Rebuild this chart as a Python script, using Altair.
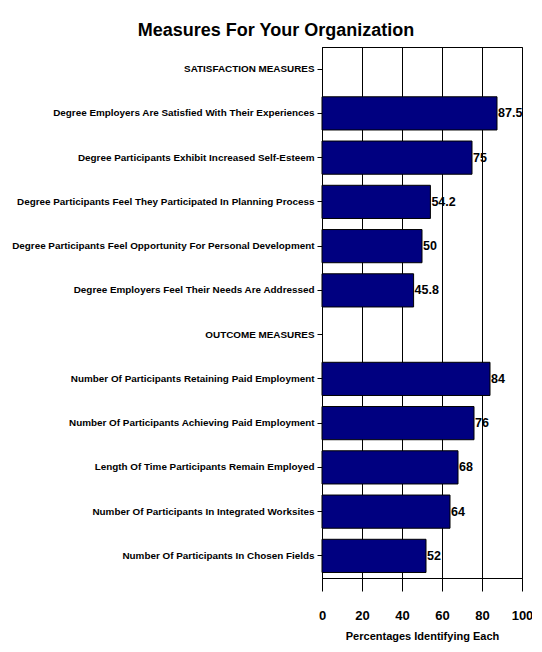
import altair as alt
import pandas as pd

categories = [
    "SATISFACTION MEASURES",
    "Degree Employers Are Satisfied With Their Experiences",
    "Degree Participants Exhibit Increased Self-Esteem",
    "Degree Participants Feel They Participated In Planning Process",
    "Degree Participants Feel Opportunity For Personal Development",
    "Degree Employers Feel Their Needs Are Addressed",
    "OUTCOME MEASURES",
    "Number Of Participants Retaining Paid Employment",
    "Number Of Participants Achieving Paid Employment",
    "Length Of Time Participants Remain Employed",
    "Number Of Participants In Integrated Worksites",
    "Number Of Participants In Chosen Fields",
]
values = [None, 87.5, 75, 54.2, 50, 45.8, None, 84, 76, 68, 64, 52]
value_labels = ["", "87.5", "75", "54.2", "50", "45.8", "", "84", "76", "68", "64", "52"]
x_ticks = [0, 20, 40, 60, 80, 100]

df = pd.DataFrame({"measure": categories, "pct": values, "label": value_labels})
bars_df = df[df["pct"].notna()]

FONT = "Liberation Sans"

y_scale = alt.Scale(domain=categories, paddingInner=0.25, paddingOuter=0.125)
x_scale = alt.Scale(domain=[0, 100], nice=False)

y_enc = alt.Y(
    "measure:N",
    sort=categories,
    scale=y_scale,
    axis=alt.Axis(
        title=None,
        labelFont=FONT,
        labelFontSize=9.9,
        labelFontWeight="bold",
        labelColor="black",
        labelLimit=400,
        tickColor="black",
        tickSize=5,
        labelPadding=3,
        domainColor="black",
        grid=False,
    ),
)
x_enc = alt.X(
    "pct:Q",
    scale=x_scale,
    axis=alt.Axis(
        values=x_ticks,
        tickCount=12,
        title="Percentages Identifying Each",
        titleFont=FONT,
        titleFontSize=11,
        titleFontWeight="bold",
        titleColor="black",
        titlePadding=8,
        labelFont=FONT,
        labelFontSize=13,
        labelFontWeight="bold",
        labelColor="black",
        labelPadding=18,
        labelOverlap=False,
        labelFlush=False,
        tickSize=13,
        tickColor="black",
        domainColor="black",
        grid=True,
        gridColor="black",
        gridOpacity=1,
        format="d",
    ),
)

base = alt.Chart(bars_df)
bars = base.mark_bar(color="#000080", stroke="black", strokeWidth=1).encode(
    x=x_enc, y=y_enc
)
text = base.mark_text(
    align="left", baseline="middle", dx=1, font=FONT, fontSize=12.5,
    fontWeight="bold", color="black"
).encode(
    x=x_enc,
    y=y_enc,
    text="label:N",
)

chart = (
    alt.layer(bars, text)
    .properties(
        width=200,
        height=531,
        autosize=alt.AutoSizeParams(type="none"),
        padding={"left": 314, "top": 39, "right": 10, "bottom": 64},
        title=alt.TitleParams(
            "Measures For Your Organization",
            font=FONT,
            fontSize=18,
            fontWeight="bold",
            color="black",
            anchor="middle",
            baseline="alphabetic",
            offset=-7,
            dx=-146,
        ),
        background="white",
    )
    .configure_view(stroke="black", strokeWidth=1)
)

chart.save("out.html", embed_options={"renderer": "svg", "actions": False})
